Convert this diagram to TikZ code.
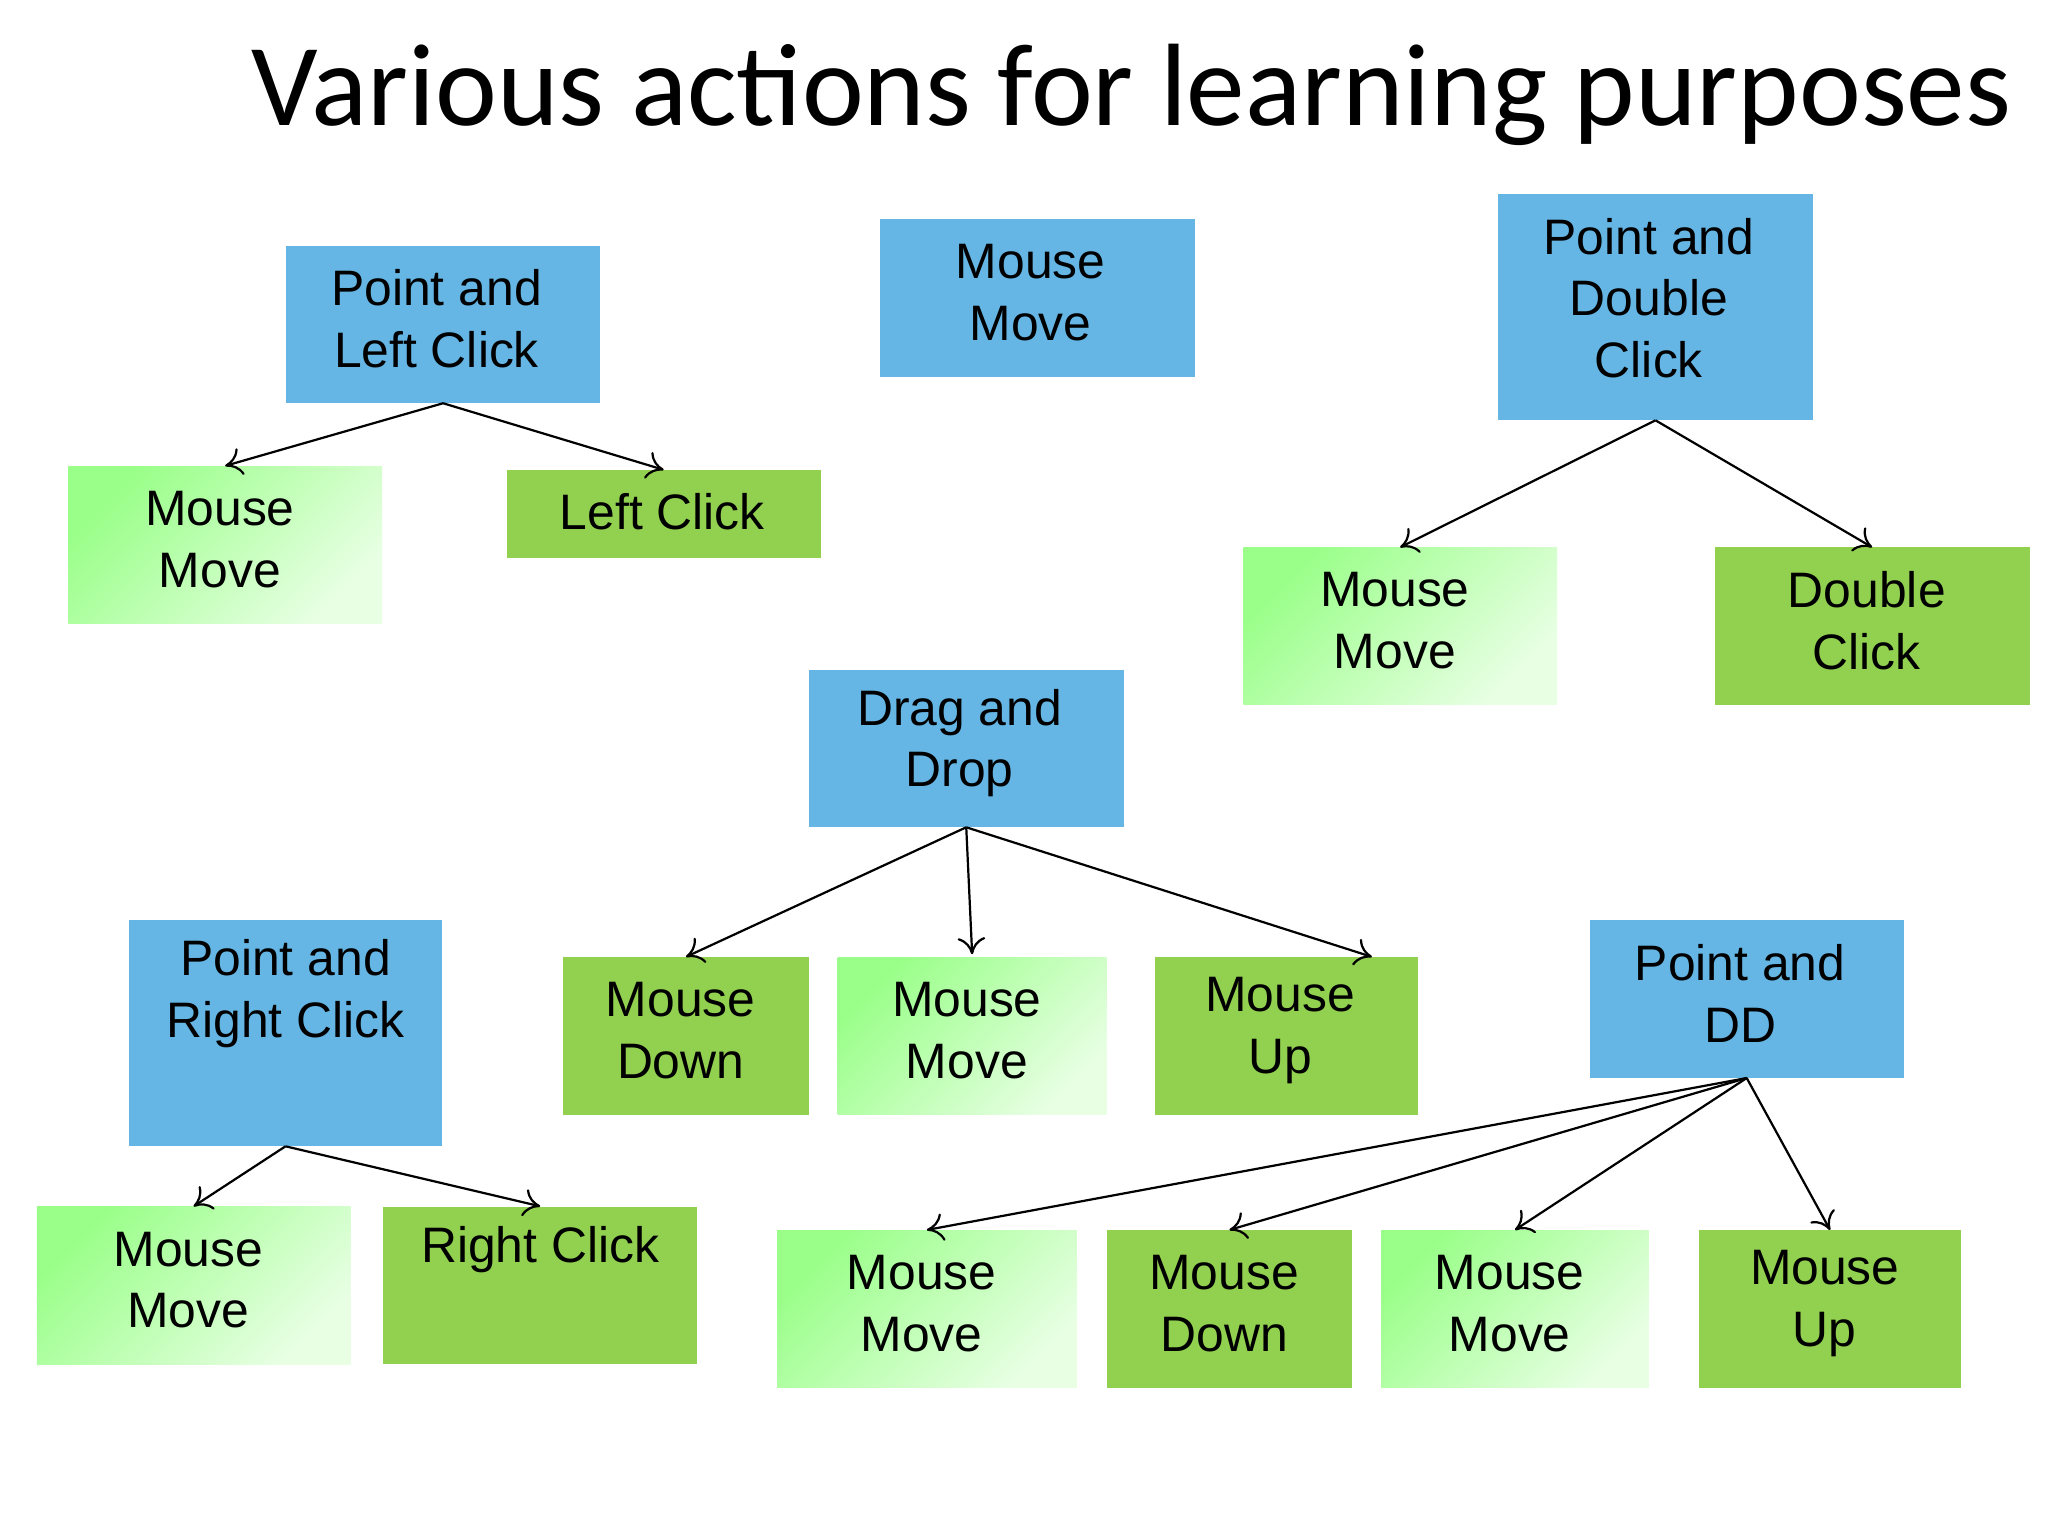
\documentclass[tikz,border=0pt]{standalone}
\usepackage{fontspec}
\setmainfont{Liberation Sans}
\newfontfamily\titlefont{Carlito}
\usetikzlibrary{fit,calc,arrows.meta}
\definecolor{bblue}{HTML}{65B6E4}
\definecolor{bgreen}{HTML}{92D050}
\definecolor{lg1}{HTML}{99FF88}
\definecolor{lg2}{HTML}{E8FFE4}
\tikzset{
 bx/.style={inner sep=0pt,draw=none},
 blue box/.style={bx,fill=bblue},
 green box/.style={bx,fill=bgreen},
 light box/.style={bx,left color=lg1,right color=lg2,shading angle=45},
 txt/.style={align=center,font=\fontsize{54}{67}\selectfont,inner sep=0pt},
 arr/.style={-{To[length=18pt,width=30pt]},line width=2.4pt,black},
}
\newcommand{\bxx}[6]{\node[#2,fit={(#3,#4) (#5,#6)}] (#1) {};}
\begin{document}
\begin{tikzpicture}[x=0.05cm,y=-0.05cm]
\useasboundingbox[fill=white] (0,0) rectangle (1560,1170);
\node[font=\titlefont\fontsize{127}{150}\selectfont,inner sep=0pt] (title) at (862,72) {Various actions for learning purposes};
\bxx{a}{blue box}{218}{187}{457}{307}
\bxx{b}{blue box}{670}{167}{910}{287}
\bxx{c}{blue box}{1141}{148}{1381}{320}
\bxx{a1}{light box}{52}{355}{291}{475}
\bxx{a2}{green box}{386}{358}{625}{425}
\bxx{c1}{light box}{947}{417}{1186}{537}
\bxx{c2}{green box}{1306}{417}{1546}{537}
\bxx{d}{blue box}{616}{510}{856}{630}
\bxx{d1}{green box}{429}{729}{616}{849}
\bxx{d2}{light box}{638}{729}{843}{849}
\bxx{d3}{green box}{880}{729}{1080}{849}
\bxx{e}{blue box}{98}{701}{337}{873}
\bxx{e1}{light box}{28}{919}{267}{1039}
\bxx{e2}{green box}{292}{919}{531}{1039}
\bxx{f}{blue box}{1211}{701}{1450}{821}
\bxx{f1}{light box}{592}{937}{820}{1057}
\bxx{f2}{green box}{843}{937}{1030}{1057}
\bxx{f3}{light box}{1052}{937}{1256}{1057}
\bxx{f4}{green box}{1294}{937}{1494}{1057}
\node[txt] (ta) at ($(a)+(-5,-4)$) {Point and\\Left Click};
\node[txt] (tb) at ($(b)+(-5,-4)$) {Mouse\\Move};
\node[txt] (tc) at ($(c)+(-5,-7)$) {Point and\\Double\\Click};
\node[txt] (ta1) at ($(a1)+(-4,-4)$) {Mouse\\Move};
\node[txt] (ta2) at ($(a2)+(-1,-2)$) {Left Click};
\node[txt] (tc1) at ($(c1)+(-4,-4)$) {Mouse\\Move};
\node[txt] (tc2) at ($(c2)+(-4,-4)$) {Double\\Click};
\node[txt] (td) at ($(d)+(-5,-4)$) {Drag and\\Drop};
\node[txt] (td1) at ($(d1)+(-4,-4)$) {Mouse\\Down};
\node[txt] (td2) at ($(d2)+(-4,-4)$) {Mouse\\Move};
\node[txt] (td3) at ($(d3)+(-5,-4)$) {Mouse\\Up};
\node[txt] (te) at ($(e)+(0,-30)$) {Point and\\Right Click};
\node[txt] (te1) at ($(e1)+(-4,-4)$) {Mouse\\Move};
\node[txt] (te2) at ($(e2)+(0,-27)$) {Right Click};
\node[txt] (tf) at ($(f)+(-5,-4)$) {Point and\\DD};
\node[txt] (tf1) at ($(f1)+(-4,-4)$) {Mouse\\Move};
\node[txt] (tf2) at ($(f2)+(-4,-4)$) {Mouse\\Down};
\node[txt] (tf3) at ($(f3)+(-4,-4)$) {Mouse\\Move};
\node[txt] (tf4) at ($(f4)+(-4,-4)$) {Mouse\\Up};
\draw[arr] (a.south) -- (a1.north);
\draw[arr] (a.south) -- (a2.north);
\draw[arr] (c.south) -- (c1.north);
\draw[arr] (c.south) -- (c2.north);
\draw[arr] (d.south) -- (d1.north);
\draw[arr] (d.south) -- ($(d2.north)+(0,-2)$);
\draw[arr] (d.south) -- ($(d3.north)+(65,0)$);
\draw[arr] (e.south) -- (e1.north);
\draw[arr] (e.south) -- (e2.north);
\draw[arr] (f.south) -- (f1.north);
\draw[arr] (f.south) -- (f2.north);
\draw[arr] (f.south) -- (f3.north);
\draw[arr] (f.south) -- (f4.north);
\end{tikzpicture}
\end{document}
